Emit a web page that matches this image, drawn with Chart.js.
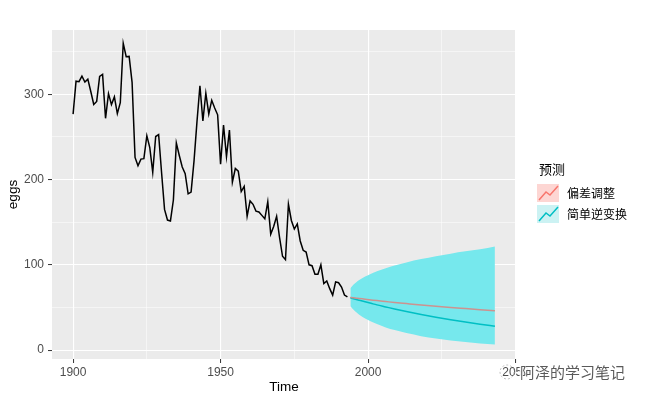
<!DOCTYPE html>
<html>
<head>
<meta charset="utf-8">
<script src="https://cdn.jsdelivr.net/npm/chart.js@4"></script>
<style>
    html, body { margin: 0; padding: 0; background: #ffffff; }
    #chart { display: block; }
</style>
</head>
<body>
<canvas id="chart" width="650" height="401"></canvas>
<script>
// eggs: price of a dozen eggs, 1900-1993
const startYear = 1900;
const eggs = [
    276.8, 315.4, 314.9, 321.3, 314.5, 317.9, 303.4, 288.1, 291.7, 321.0,
    323.4, 271.9, 300.8, 288.0, 297.0, 277.4, 290.2, 359.9, 344.1, 344.5,
    314.0, 226.0, 216.2, 224.0, 224.6, 251.5, 237.6, 208.5, 250.5, 252.8,
    208.0, 165.0, 152.5, 151.5, 176.0, 243.0, 228.3, 214.8, 206.9, 183.3,
    185.4, 222.0, 268.0, 310.1, 268.8, 301.3, 277.0, 293.0, 284.0, 276.0,
    218.0, 264.0, 227.0, 258.0, 197.0, 213.0, 210.0, 186.0, 192.0, 157.0,
    175.0, 171.0, 163.0, 162.0, 158.0, 154.0, 174.0, 136.0, 145.0, 157.0,
    132.0, 110.0, 106.0, 171.0, 152.0, 142.0, 148.0, 128.0, 117.0, 115.0,
    100.0, 99.0, 89.0, 89.0, 100.0, 78.0, 81.0, 72.0, 64.5, 80.0,
    79.0, 74.0, 64.5, 62.3
];

// forecasts
const fcYears = [1994, 1995, 1996, 1997, 1999, 2001, 2003, 2006, 2009, 2013, 2018, 2023, 2028, 2033, 2038, 2043];
const simpleBack = [61.3, 60.3, 59.3, 58.4, 56.6, 54.8, 53.0, 50.6, 48.2, 45.2, 41.7, 38.5, 35.5, 32.8, 30.3, 27.9];
const biasAdj = [61.8, 61.3, 60.9, 60.5, 59.6, 58.8, 58.0, 56.9, 55.8, 54.5, 52.9, 51.4, 50.0, 48.7, 47.4, 46.1];
const upper80 = [72.5, 76.5, 79.6, 82.1, 86.2, 89.6, 92.4, 96.1, 99.2, 102.8, 106.7, 110.1, 113.1, 115.8, 118.2, 121.5];
const lower80 = [51.8, 47.5, 44.3, 41.5, 37.1, 33.5, 30.5, 26.6, 23.4, 19.9, 16.3, 13.5, 11.2, 9.3, 7.7, 6.5];

const xTicks = [1900, 1925, 1950, 1975, 2000, 2025, 2050];
const yTicks = [0, 50, 100, 150, 200, 250, 300, 350];

const legendTitle = '预测';
const legendLabels = ['偏差调整', '简单逆变换'];
const watermark = '阿泽的学习笔记';

const RED = '#F8766D';
const CYAN = '#00BFC4';
const LATIN = '"Liberation Sans", Arial, "Noto Sans CJK SC", sans-serif';
const CJK = '"Noto Sans CJK SC", "Liberation Sans", sans-serif';

const toPoints = (xs, ys) => ys.map((y, i) => ({x: xs[i], y: y}));
const eggYears = eggs.map((_, i) => startYear + i);

const panelBg = {
    id: 'panelBg',
    beforeDraw(chart) {
        const {ctx, chartArea: a} = chart;
        ctx.save();
        ctx.fillStyle = '#EBEBEB';
        ctx.fillRect(a.left, a.top, a.right - a.left, a.bottom - a.top);
        ctx.restore();
    }
};

function drawKey(ctx, x, y, fill, stroke) {
    ctx.fillStyle = fill;
    ctx.fillRect(x, y, 22, 18);
    ctx.strokeStyle = stroke;
    ctx.lineWidth = 1.5;
    ctx.beginPath();
    ctx.moveTo(x + 2, y + 16);
    ctx.lineTo(x + 9, y + 8);
    ctx.lineTo(x + 13, y + 11);
    ctx.lineTo(x + 21, y + 2);
    ctx.stroke();
}

const sideLegend = {
    id: 'sideLegend',
    afterDraw(chart) {
        const ctx = chart.ctx;
        ctx.save();
        ctx.textBaseline = 'middle';
        ctx.textAlign = 'left';
        ctx.fillStyle = '#000000';
        ctx.font = '13px ' + CJK;
        ctx.fillText(legendTitle, 539, 169);
        drawKey(ctx, 537, 184, 'rgba(248,118,109,0.3)', RED);
        drawKey(ctx, 537, 205, 'rgba(0,191,196,0.2)', CYAN);
        ctx.fillStyle = '#000000';
        ctx.font = '12px ' + CJK;
        ctx.fillText(legendLabels[0], 567, 193);
        ctx.fillText(legendLabels[1], 567, 214);

        // watermark
        ctx.font = '15px ' + CJK;
        ctx.lineWidth = 3;
        ctx.strokeStyle = 'rgba(255,255,255,0.9)';
        ctx.strokeText(watermark, 520, 372);
        ctx.fillStyle = '#5a5a5a';
        ctx.fillText(watermark, 520, 372);
        ctx.strokeStyle = '#bdbdbd';
        ctx.lineWidth = 1;
        ctx.setLineDash([2, 2]);
        ctx.beginPath();
        ctx.arc(507, 372, 7, 0, Math.PI * 2);
        ctx.stroke();
        ctx.restore();
    }
};

const gridWidth = (step) => (c) => (c.tick && c.tick.value % step === 0 ? 1.1 : 0.5);
const tickColor = (step) => (c) => (c.tick && c.tick.value % step === 0 ? '#333333' : 'rgba(0,0,0,0)');

new Chart(document.getElementById('chart'), {
    type: 'line',
    data: {
        datasets: [
            {
                label: 'lower',
                data: toPoints(fcYears, lower80),
                borderWidth: 0,
                pointRadius: 0,
                fill: false,
                cubicInterpolationMode: 'monotone',
                order: 5
            },
            {
                label: 'upper',
                data: toPoints(fcYears, upper80),
                borderWidth: 0,
                pointRadius: 0,
                fill: '-1',
                backgroundColor: 'rgb(118,232,237)',
                cubicInterpolationMode: 'monotone',
                order: 4
            },
            {
                label: legendLabels[1],
                data: toPoints(fcYears, simpleBack),
                borderColor: CYAN,
                borderWidth: 1.5,
                pointRadius: 0,
                cubicInterpolationMode: 'monotone',
                order: 3
            },
            {
                label: legendLabels[0],
                data: toPoints(fcYears, biasAdj),
                borderColor: 'rgb(205,146,143)',
                borderWidth: 1.5,
                pointRadius: 0,
                cubicInterpolationMode: 'monotone',
                order: 2
            },
            {
                label: 'eggs',
                data: toPoints(eggYears, eggs),
                borderColor: '#000000',
                borderWidth: 1.5,
                pointRadius: 0,
                tension: 0,
                order: 1
            }
        ]
    },
    options: {
        responsive: false,
        animation: false,
        events: [],
        layout: {padding: {left: 0, top: 30, right: 134, bottom: 0}},
        plugins: {
            legend: {display: false},
            tooltip: {enabled: false}
        },
        scales: {
            x: {
                type: 'linear',
                min: 1892.85,
                max: 2050.15,
                afterBuildTicks: (s) => { s.ticks = xTicks.map(v => ({value: v})); },
                afterFit: (s) => { s.height = 42; },
                border: {display: false},
                grid: {
                    color: '#ffffff',
                    lineWidth: gridWidth(50),
                    tickColor: tickColor(50),
                    tickWidth: 1,
                    tickLength: 4
                },
                ticks: {
                    autoSkip: false,
                    maxRotation: 0,
                    padding: 2,
                    color: '#4D4D4D',
                    font: {family: LATIN, size: 12},
                    callback: (v) => (v % 50 === 0 ? String(v) : '')
                },
                title: {
                    display: true,
                    text: 'Time',
                    color: '#000000',
                    font: {family: LATIN, size: 13.5},
                    padding: {top: 0, bottom: 6}
                }
            },
            y: {
                type: 'linear',
                min: -10.5,
                max: 375.5,
                afterBuildTicks: (s) => { s.ticks = yTicks.map(v => ({value: v})); },
                afterFit: (s) => { s.width = 52; },
                border: {display: false},
                grid: {
                    color: '#ffffff',
                    lineWidth: gridWidth(100),
                    tickColor: tickColor(100),
                    tickWidth: 1,
                    tickLength: 4
                },
                ticks: {
                    autoSkip: false,
                    padding: 4,
                    color: '#4D4D4D',
                    font: {family: LATIN, size: 12},
                    callback: (v) => (v % 100 === 0 ? String(v) : '')
                },
                title: {
                    display: true,
                    text: 'eggs',
                    color: '#000000',
                    font: {family: LATIN, size: 13.5},
                    padding: {top: 5, bottom: 0}
                }
            }
        }
    },
    plugins: [panelBg, sideLegend]
});
</script>
</body>
</html>
